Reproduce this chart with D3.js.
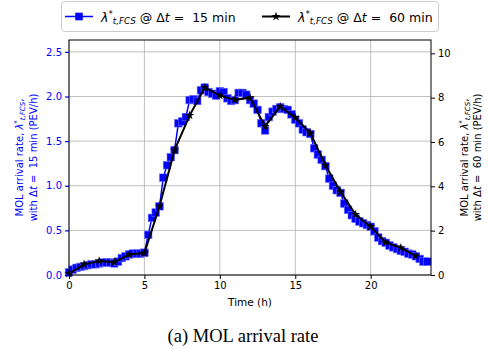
<!DOCTYPE html>
<html><head><meta charset="utf-8">
<script src="https://cdn.jsdelivr.net/npm/d3@7"></script>
<style>body{margin:0;background:#fff}svg{display:block}text{font-family:"DejaVu Sans",sans-serif;white-space:pre}</style>
</head><body><svg id="c" width="488" height="349"></svg>
<script>
// ---- data ----
const times15 = d3.range(96).map(i => i * 0.25);
const rate15 = [0.03,0.06,0.08,0.09,0.10,0.11,0.12,0.12,0.13,0.14,0.14,0.14,0.13,0.15,0.19,0.21,
0.23,0.24,0.24,0.24,0.25,0.45,0.64,0.70,0.77,1.09,1.23,1.32,1.40,1.70,1.72,1.77,
1.96,1.97,1.95,2.07,2.10,2.05,2.03,2.01,2.06,2.05,1.98,1.95,1.96,2.04,2.04,2.02,
1.96,1.92,1.85,1.70,1.62,1.77,1.83,1.86,1.88,1.86,1.85,1.80,1.74,1.70,1.63,1.60,
1.58,1.42,1.35,1.29,1.22,1.08,1.00,0.95,0.92,0.80,0.73,0.67,0.63,0.60,0.58,0.56,
0.54,0.49,0.42,0.38,0.36,0.33,0.31,0.29,0.27,0.26,0.24,0.23,0.21,0.18,0.15,0.15];
const times60 = d3.range(24);
const rate60 = [0.06,0.48,0.63,0.58,0.93,0.99,3.10,5.63,7.20,8.45,8.10,7.90,8.00,6.70,7.60,7.10,
6.40,4.95,3.75,2.73,2.18,1.47,1.23,0.86];
const xTicks = [0,5,10,15,20];
const yLeftTicks = [0.0,0.5,1.0,1.5,2.0,2.5];
const yRightTicks = [0,2,4,6,8,10];

// ---- layout ----
const L = 69, R = 431, T = 40, B = 275;
const svg = d3.select("#c");
const x = d3.scaleLinear([0,24],[L,R]);
const yL = d3.scaleLinear([0,2.633],[B,T]);
const yR = d3.scaleLinear([0,10.6],[B,T]);
const blue = "#0000ff";

// grid
const g = svg.append("g");
g.selectAll("line.gx").data(xTicks).join("line")
  .attr("x1",d=>x(d)).attr("x2",d=>x(d)).attr("y1",T).attr("y2",B)
  .attr("stroke","#b0b0b0").attr("stroke-width",0.8);
g.selectAll("line.gy").data(yLeftTicks).join("line")
  .attr("x1",L).attr("x2",R).attr("y1",d=>yL(d)).attr("y2",d=>yL(d))
  .attr("stroke","#b0b0b0").attr("stroke-width",0.8);

// blue series
svg.append("path").datum(rate15)
  .attr("d", d3.line().x((d,i)=>x(times15[i])).y(d=>yL(d)))
  .attr("fill","none").attr("stroke",blue).attr("stroke-width",1.5);
svg.append("g").selectAll("rect").data(rate15).join("rect")
  .attr("x",(d,i)=>x(times15[i])-3.8).attr("y",d=>yL(d)-3.8)
  .attr("width",7.6).attr("height",7.6).attr("fill",blue)
  .attr("stroke","#6f6fff").attr("stroke-width",0.6);

// black series
const star = d3.symbol().type(d3.symbolStar).size(26);
svg.append("path").datum(rate60)
  .attr("d", d3.line().x((d,i)=>x(times60[i])).y(d=>yR(d)))
  .attr("fill","none").attr("stroke","#000").attr("stroke-width",2);
svg.append("g").selectAll("path").data(rate60).join("path")
  .attr("d",star).attr("transform",(d,i)=>`translate(${x(times60[i])},${yR(d)})`)
  .attr("fill","#000");

// axes
const ax = svg.append("g").attr("transform",`translate(0,${B})`)
  .call(d3.axisBottom(x).tickValues(xTicks).tickFormat(d3.format("d")).tickSize(4).tickPadding(3));
const ayl = svg.append("g").attr("transform",`translate(${L},0)`)
  .call(d3.axisLeft(yL).tickValues(yLeftTicks).tickFormat(d3.format(".1f")).tickSize(4).tickPadding(3));
const ayr = svg.append("g").attr("transform",`translate(${R},0)`)
  .call(d3.axisRight(yR).tickValues(yRightTicks).tickFormat(d3.format("d")).tickSize(4).tickPadding(3));
[ax,ayl,ayr].forEach(a=>{a.select(".domain").remove();a.selectAll("text").attr("font-size",10).attr("font-family","DejaVu Sans");});
ax.selectAll("line").attr("stroke","#000");
ayl.selectAll("line").attr("stroke",blue).attr("stroke-width",1.2);
ayl.selectAll("text").attr("fill",blue);
ayr.selectAll("line").attr("stroke","#000");
ayr.selectAll("text").attr("fill","#000");
// frame
svg.append("rect").attr("x",L).attr("y",T).attr("width",R-L).attr("height",B-T)
  .attr("fill","none").attr("stroke","#000").attr("stroke-width",1);

// rich label: λ with superscript * and subscript t,FCS, all inside one text element
function richLambda(parent, xx, yy, fs, before, after, color, anchor){
  const t = parent.append("text").attr("x",xx).attr("y",yy).attr("font-size",fs).attr("fill",color)
    .attr("text-anchor",anchor||"start");
  if(before) t.append("tspan").text(before);
  t.append("tspan").attr("font-style","italic").text("λ");
  t.append("tspan").attr("font-size",fs*0.7).attr("dy",-fs*0.38).text("*");
  t.append("tspan").attr("font-style","italic").attr("font-size",fs*0.7)
    .attr("dy",fs*0.38+fs*0.22).text("t,FCS");
  after.forEach((p,i)=>{
    const s=t.append("tspan").text(p.t);
    if(p.i) s.attr("font-style","italic");
    if(i===0) s.attr("dy",-fs*0.22);
  });
  return t;
}

// left y label
const yl = svg.append("g").attr("transform","translate(22.5,157.5) rotate(-90)");
richLambda(yl, 0, 0, 10, "MOL arrival rate, ", [{t:","}], blue, "middle");
const ylt2 = yl.append("text").attr("text-anchor","middle").attr("font-size",10).attr("fill",blue).attr("y",14.5);
ylt2.append("tspan").text("with Δ"); ylt2.append("tspan").attr("font-style","italic").text("t");
ylt2.append("tspan").text("\u00a0=\u00a0\u00a015 min (PEV/h)");

// right y label
const yr = svg.append("g").attr("transform","translate(467.5,157.5) rotate(-90)");
richLambda(yr, 0, 0, 10, "MOL arrival rate, ", [{t:","}], "#000", "middle");
const yrt2 = yr.append("text").attr("text-anchor","middle").attr("font-size",10).attr("fill","#000").attr("y",13);
yrt2.append("tspan").text("with Δ"); yrt2.append("tspan").attr("font-style","italic").text("t");
yrt2.append("tspan").text("\u00a0=\u00a0\u00a060 min (PEV/h)");

// x label
svg.append("text").attr("x",(L+R)/2).attr("y",306).attr("text-anchor","middle")
  .attr("font-size",10.5).text("Time (h)");

// caption
svg.append("text").attr("x",243).attr("y",342).attr("text-anchor","middle")
  .attr("font-size",18.5).style("font-family","'Liberation Serif','Times New Roman',serif")
  .text("(a) MOL arrival rate");

// legend
const lg = svg.append("g");
lg.append("rect").attr("x",61.5).attr("y",1.5).attr("width",377).attr("height",30).attr("rx",3)
  .attr("fill","#fff").attr("stroke","#cccccc").attr("stroke-width",1);
lg.append("line").attr("x1",65).attr("x2",93).attr("y1",16.5).attr("y2",16.5).attr("stroke",blue).attr("stroke-width",1.5);
lg.append("rect").attr("x",79-3.8).attr("y",16.5-3.8).attr("width",7.6).attr("height",7.6).attr("fill",blue);
richLambda(lg, 101, 21.5, 12.5, null, [{t:" @ Δ"},{t:"t",i:true},{t:"\u00a0=\u00a0\u00a015 min"}], "#000");
lg.append("line").attr("x1",262).attr("x2",290).attr("y1",16.5).attr("y2",16.5).attr("stroke","#000").attr("stroke-width",2);
lg.append("path").attr("d",star).attr("transform","translate(276,16.5)").attr("fill","#000");
richLambda(lg, 298, 21.5, 12.5, null, [{t:" @ Δ"},{t:"t",i:true},{t:"\u00a0=\u00a0\u00a060 min"}], "#000");
</script></body></html>
